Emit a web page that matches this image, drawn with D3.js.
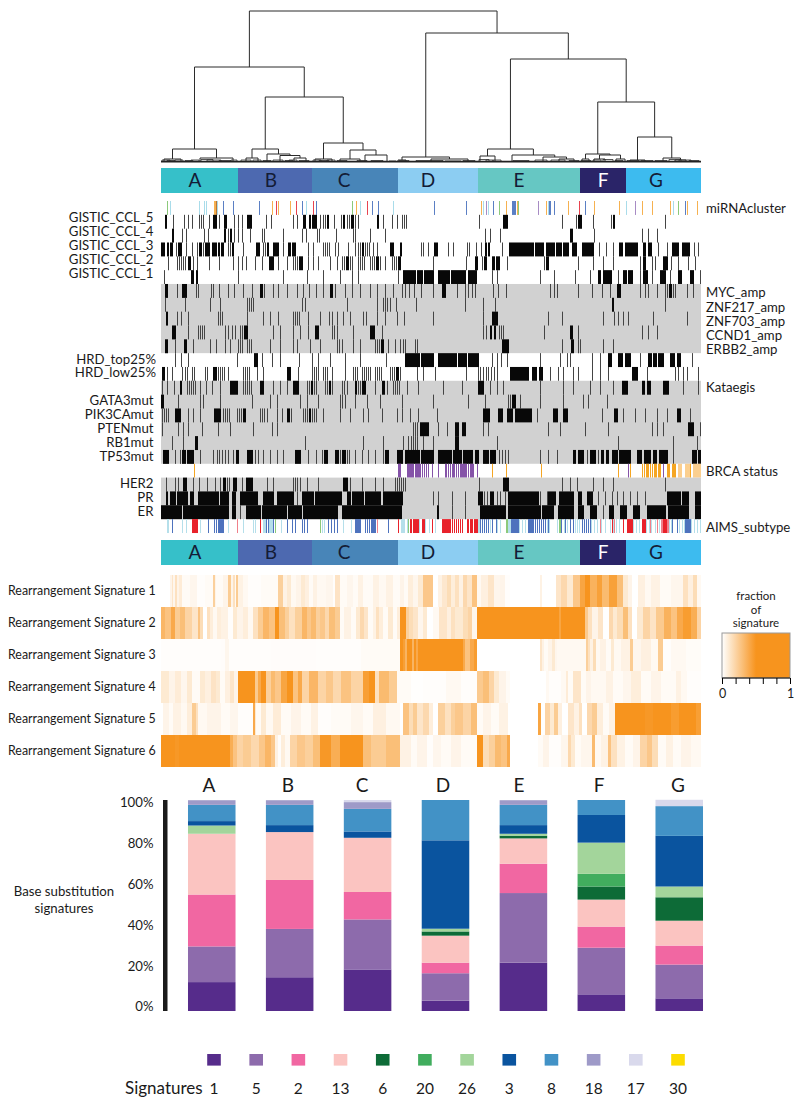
<!DOCTYPE html>
<html><head><meta charset="utf-8">
<script src="https://cdn.jsdelivr.net/npm/d3@7/dist/d3.min.js"></script>
<style>html,body{margin:0;background:#fff}svg{display:block}text{font-family:Lato,"Open Sans",sans-serif;fill:#1a1a1a}</style>
</head><body><svg id="c" width="800" height="1106"></svg>
<script>
const sampleCount = 540;
const clusters = ["A","B","C","D","E","F","G"];
const clusterEnds = [77,151,237,317,419,465,540];
const clusterColors = ["#36c0c9","#4d69b0","#4885b8","#8ccdf2","#66c7c3","#2a2468","#3dbbef"];
const clusterLabelPos = [34,110,183,267,358,442,495];

// dendrogram: [height, left, right]; a leaf is a sample index
const dendroTree = [151,
  [95,
    [13,[3,3,20],[4,39,72]],
    [65,
      [13,[4,85,97],[8,106,[6.5,119,[4,133,145]]]],
      [19,[3,154,171],[12,[3,179,199],[7,204,226]]]]],
  [129,
    [5,[2,237,245],[3,270,307]],
    [103,
      [13,[6,319,334],[7,351,[5,382,[3,398,413]]]],
      [60,
        [8,[3,421,428],[7,[3,433,444],[3,455,464]]],
        [25,[2,469,484],[4,502,[2,514,525]]]]]]];
// small low merges along the base of the dendrogram: [from, to, height]
const dendroTwigs = [[1,9,2],[6,14,1.5],[14,22,2],[24,32,1.5],[30,38,2],[40,52,2.5],[46,60,2],[58,70,1.5],[70,76,2],
 [80,90,2],[92,100,2],[102,110,1.5],[112,122,2],[124,132,1.5],[128,136,2],[138,148,1.5],[152,160,2],[158,168,1.5],[166,174,2],
 [176,186,1.5],[196,206,1.5],[210,222,1.5],[228,235,1],[238,248,1.5],[255,282,1.5],[284,300,1],[302,314,1.5],
 [318,328,2.5],[325,332,2],[332,340,2],[352,368,1.5],[374,386,2],[390,404,2],[408,418,1.5],[420,430,1.5],[432,440,2],[442,452,2.5],[454,462,1.5],
 [466,478,1.5],[480,492,1.5],[494,506,1.5],[508,520,2.5],[518,530,2],[528,538,1.5]];

const rowLabelsLeft = ["GISTIC_CCL_5","GISTIC_CCL_4","GISTIC_CCL_3","GISTIC_CCL_2","GISTIC_CCL_1"];
// entries: single sample, or [first,last] run
const mirnaLightBlue = [9,38,43,45,56,145,199,232,322,327,387,465,512];
const mirnaBlue = [62,72,98,141,155,211,217,273,305,332,[351,354],[388,389],393,424,524];
const mirnaOrange = [[53,54],111,117,129,195,320,345,356,385,407,433,458,481,491,509,526,536];
const mirnaRed = [115,135,152,206,418];
const mirnaGreen = [6,191,338,357,517];
const mirnaPurple = [325,377,474];
const mirnaBrown = [55];

const gistic5 = [[4,5],12,23,27,31,38,40,42,48,[52,55],58,[63,65],73,77,81,[86,90],105,110,132,136,[142,144],[148,149],[151,155],159,162,164,[166,167],173,180,[182,183],186,188,[190,192],194,197,[216,217],222,231,236,241,243,245,318,[342,346],401,415,[417,420],432,450,[452,453],504];
const gistic4 = [[11,12],21,25,43,47,[63,64],67,[69,70],73,77,81,89,101,103,122,141,145,156,158,175,192,194,209,224,324,329,339,[409,411],433,481,487,496];
const gistic3 = [[0,3],[6,7],[9,11],15,[17,20],25,31,36,[38,40],42,[44,48],[51,55],[57,58],[60,62],67,69,[71,72],82,[95,98],102,104,[106,107],[112,117],122,[127,129],[131,134],147,152,162,164,166,168,174,177,187,194,197,199,[201,202],204,206,208,212,216,[229,232],[239,240],260,262,267,[273,276],287,292,306,308,315,320,[324,325],[327,328],341,[348,372],[374,378],[379,382],[385,393],[395,400],[402,407],[411,415],[421,432],438,445,452,[458,461],[464,476],[482,484],[487,490],497,506,[511,517],[521,528],533,537];
const gistic2 = [7,16,18,20,22,24,[27,29],32,36,48,58,72,77,81,85,94,101,[108,112],117,126,132,134,136,[138,141],147,152,157,169,176,181,183,[185,187],189,191,197,199,201,203,209,211,213,[215,217],219,224,231,233,235,[237,239],272,305,[314,316],321,[323,325],[331,333],[335,338],346,383,[385,387],417,432,442,452,479,[482,484],491,494,[502,506],510,517,527,534];
const gistic1 = [3,[30,32],[35,36],77,122,146,162,179,191,197,237,[242,246],[247,254],[256,261],[263,272],[277,288],[290,304],[307,315],331,336,379,393,414,429,[437,439],[442,450],457,[462,465],[467,471],479,[482,486],491,[499,504],509,[517,520],[529,532],539];

const rowLabelsGain = ["MYC_amp","ZNF217_amp","ZNF703_amp","CCND1_amp","ERBB2_amp"];
const mycAmp = [[4,6],16,[21,25],35,37,50,52,58,67,73,82,91,[99,101],103,112,117,126,136,142,148,155,162,[169,171],174,184,191,199,209,216,224,232,241,244,248,253,260,272,[281,284],296,304,307,311,314,332,337,345,389,393,396,417,431,441,449,[456,459],479,484,487,496,504,506,[508,510],512,514,526,532];
const znf217Amp = [4,24,49,59,86,88,90,92,141,144,186,216,222,224,226,229,235,255,304,322,334,[451,452],504];
const znf703Amp = [[5,6],16,20,27,57,59,61,86,102,109,117,132,134,136,138,147,159,168,171,176,182,189,202,205,216,224,236,243,272,322,[331,336],387,401,442,453,457,462,467,492,526];
const ccnd1Amp = [[11,14],27,37,39,41,43,64,67,71,74,79,81,[83,86],112,119,132,139,147,[154,157],171,173,176,192,[209,213],221,322,325,[329,330],[333,334],338,340,342,383,[409,411],417,481,487,496];
const erbb2Amp = [[4,6],14,[23,25],32,49,55,64,69,77,79,81,86,88,90,109,119,132,136,149,159,176,178,181,192,199,214,216,218,[220,222],227,234,239,242,244,254,256,[341,347],401,[410,412],417,419,442,452];

const hrdTop = [14,20,27,76,[93,96],101,111,119,138,151,157,169,184,199,225,[244,258],[260,272],[277,295],[297,305],[307,317],331,336,340,346,379,399,406,409,431,439,[447,450],[457,461],[464,469],479,[487,490],[492,495],[497,502],[509,513],[516,519],531];
const hrdLow = [[1,3],6,11,21,24,26,31,33,44,46,[52,55],57,59,61,63,67,82,84,86,88,96,102,[126,129],137,151,153,155,157,162,164,166,171,184,192,194,196,201,203,205,207,209,214,216,218,220,229,231,233,[235,237],239,256,262,274,305,317,319,322,325,327,330,333,336,[349,355],[356,367],[371,375],[378,381],389,397,402,412,417,431,439,447,[471,476],486,514,517,522,526,537];

const kataegis = [1,6,13,[19,20],26,28,30,32,34,39,45,51,59,[69,76],82,84,86,88,90,[99,102],112,119,126,[132,137],146,148,[150,151],153,155,164,166,[168,169],171,181,183,186,[194,195],197,199,[201,204],214,[221,223],226,232,234,236,238,246,257,282,301,[317,322],329,336,342,379,402,412,429,439,452,[461,466],[481,483],[486,489],[502,507],522,537];
const gata3 = [[0,2],17,39,42,59,91,109,116,139,146,157,179,181,184,194,206,219,241,272,307,324,347,349,[351,354],359,379,402,422,427,446];
const pik3ca = [1,3,5,7,[14,19],27,32,39,[53,59],62,64,66,68,76,78,80,[82,84],99,101,103,106,116,121,[126,128],130,142,144,146,[148,149],151,153,155,162,179,189,202,207,221,236,241,249,257,276,[322,328],[337,341],[346,351],[354,370],376,[392,396],[402,406],441,[453,456],462,474,484,496,506,[516,519],529];
const pten = [1,17,22,27,41,57,69,92,111,116,252,254,256,[259,267],277,286,[294,297],[301,304],322,327,387,399,424,447,491,496,502,[527,532],539];
const rb1 = [11,22,[34,36],144,202,222,242,247,250,252,254,256,262,272,[294,297],336,457,512,536];
const tp53 = [[2,7],14,19,[21,24],[26,32],39,52,56,58,61,64,67,72,[75,77],[86,91],94,97,102,109,116,122,[134,139],147,155,161,[163,166],[174,177],179,[181,184],186,188,194,201,207,214,222,[224,227],[236,241],[244,258],[260,272],[277,290],[292,300],[302,311],[314,317],[322,327],[329,334],338,341,344,347,379,387,396,[412,414],[417,422],426,[429,434],437,[440,442],[445,447],[451,456],[458,469],[476,480],[483,489],[492,495],[498,506],512,[531,535],[537,539]];

const brcaOrange = [33,331,345,380,457,469,481,483,[485,487],489,491,[493,495],[497,499],[506,508],[511,514],529];
const brcaLight = [[517,520],[524,528],[532,539]];
const brcaPurple = [[237,239],[246,252],[254,259],261,263,265,267,271,277,[284,285],287,289,[291,293],295,297,[299,301],[302,305],307,[309,312],316,467,502];

const her2 = [5,14,17,[22,25],32,38,46,54,59,[62,64],66,68,[72,75],81,[85,91],106,112,132,134,136,139,146,157,[182,186],189,201,214,222,234,236,238,240,242,244,318,[342,347],401,409,416,432,442,452,504];
const pr = [[5,6],[9,14],[16,26],[29,32],[37,57],[59,67],[71,74],[79,96],[102,112],[116,132],136,[141,152],[154,180],[186,189],[191,202],[204,219],[222,241],272,277,291,304,[317,321],323,326,[329,332],336,339,344,[347,377],379,386,[387,394],[398,412],[417,420],[426,431],437,444,451,456,462,469,476,484,[506,519],[521,527],[534,539]];
const er = [[0,20],[22,36],[37,67],[71,74],79,[85,99],[101,125],[127,140],[142,176],[181,240],[276,277],291,304,[319,336],[337,344],[347,379],[381,392],[397,412],[417,422],[429,435],442,[448,452],[459,465],[472,478],[486,504],[507,527],[534,539]];

const rowLabelsHrd = ["HRD_top25%","HRD_low25%"];
const rowLabelsMut = ["GATA3mut","PIK3CAmut","PTENmut","RB1mut","TP53mut"];
const rowLabelsReceptor = ["HER2","PR","ER"];

const aimsLumA = [6,7,21,25,39,67,82,92,94,[102,104],[108,111],120,161,163,182,190,[240,243],246,258,264,268,274,[317,318],329,336,339,[346,349],358,361,364,378,380,386,388,396,398,403,406,414,416,418,430,433,436,440,444,449,452,455,458,472,475,478,485,488,490,494,498,500,508,510,518,521,523,530,533,536,539];
const aimsLumB = [11,47,53,55,[57,62],105,107,112,126,131,134,141,143,146,167,170,173,176,[194,199],204,206,208,[210,214],227,319,321,323,325,327,331,335,[350,357],[367,372],374,376,378,380,382,384,387,398,400,404,409,412,421,423,425,427,429,511,516,[524,529]];
const aimsBasal = [[31,36],99,237,247,[249,250],[252,254],[255,257],[261,263],271,[281,289],291,293,295,297,299,301,[306,307],[309,311],[313,316],451,462,[466,471],[481,484],[502,505]];
const aimsHer2 = [76,216,439,453,489,496,[500,501],[506,507]];
const aimsNormal = [114,159,247,[345,346],[398,399]];

const heatLabels = ["Rearrangement Signature 1","Rearrangement Signature 2","Rearrangement Signature 3","Rearrangement Signature 4","Rearrangement Signature 5","Rearrangement Signature 6"];
// [last sample of run, fraction]
const rearr1 = [[9,0],[11,.05],[12,.12],[14,.04],[16,.14],[18,.05],[21,.09],[29,.02],[36,.04],[44,.01],[52,.02],[54,.22],[55,.05],[62,.02],[67,.05],[70,.24],[72,.05],[74,.14],[75,.03],[77,.24],[82,.06],[87,.03],[100,.01],[117,.02],[122,.22],[126,.06],[130,.1],[135,.03],[140,.05],[144,.1],[148,.07],[152,.02],[156,.06],[165,.03],[172,.04],[174,.01],[179,.13],[186,.02],[192,.04],[197,.02],[202,.06],[212,.02],[218,.06],[225,.03],[232,.06],[239,.02],[243,.05],[247,.02],[252,.08],[257,.04],[262,.1],[272,.26],[277,0],[281,.06],[286,.11],[290,.16],[294,.08],[298,.14],[302,.06],[306,.18],[311,.12],[316,.28],[320,.03],[327,.07],[333,.12],[339,.04],[344,.05],[349,.01],[379,0],[381,.06],[395,0],[400,.12],[406,.18],[412,.1],[419,.26],[424,.42],[429,.5],[436,.36],[441,.44],[448,.32],[456,.44],[462,.3],[467,.1],[471,.05],[477,0],[484,.07],[490,.03],[499,.06],[510,.02],[522,.04],[527,.14],[532,.07],[536,.16],[540,.03]];
const rearr2 = [[4,.34],[10,.28],[14,.4],[19,.24],[24,.3],[31,.2],[37,.12],[39,.28],[42,.16],[46,0],[49,.14],[52,.08],[56,.03],[60,.08],[67,.06],[72,.01],[76,.1],[82,.05],[87,.08],[92,.03],[97,.14],[102,.24],[108,.34],[114,.28],[118,.5],[124,.3],[128,.22],[134,.14],[141,.22],[146,.34],[150,.26],[155,.32],[159,.22],[164,.26],[168,.18],[174,.3],[179,.24],[183,.02],[190,.06],[195,.02],[199,.1],[203,.18],[207,.12],[212,.02],[215,.06],[218,.14],[222,.08],[227,.02],[232,.1],[236,.02],[239,.08],[245,.55],[248,.22],[252,.16],[257,.12],[262,.04],[266,.1],[272,0],[278,.03],[286,.12],[290,.07],[294,.14],[302,.1],[307,.16],[311,.2],[316,.04],[324,.6],[331,.5],[398,.6],[400,.42],[424,.6],[427,.25],[431,.14],[437,.05],[442,.12],[448,0],[452,.18],[456,.1],[462,.16],[467,.3],[471,.14],[476,0],[482,.1],[489,.2],[495,.13],[503,.25],[510,.36],[516,.28],[522,.4],[530,.46],[536,.38],[540,.2]];
const rearr3 = [[60,.008],[64,.012],[68,.04],[110,.008],[155,.012],[200,.008],[239,.02],[242,.6],[244,.45],[246,.35],[251,.55],[253,.35],[255,.6],[257,.4],[261,.55],[302,.62],[304,.4],[309,.28],[313,.4],[316,.46],[379,0],[381,.12],[383,.06],[387,.02],[391,.05],[394,.1],[396,.04],[425,.03],[427,.22],[429,.14],[432,.06],[435,.16],[439,.03],[445,.06],[450,.02],[453,.1],[460,.03],[469,.06],[472,.24],[480,.04],[490,.07],[497,.03],[502,.24],[510,.01],[525,.03],[540,.015]];
const rearr4 = [[8,.1],[14,.05],[20,.09],[26,.04],[31,.1],[39,.02],[44,.1],[50,.07],[55,.13],[59,.1],[64,.02],[69,.07],[73,.12],[77,.05],[94,.55],[97,.25],[100,.4],[105,.55],[110,.22],[114,.32],[120,.26],[126,.42],[132,.5],[137,.28],[141,.4],[148,.2],[157,.34],[165,.2],[172,.26],[180,.18],[190,.28],[202,.2],[208,.45],[214,.5],[218,.14],[228,.32],[236,.24],[239,.02],[250,.02],[262,.005],[285,.01],[300,.03],[316,.01],[322,.25],[328,.3],[333,.2],[338,.1],[345,.05],[349,.02],[385,0],[388,.03],[400,.01],[405,.03],[407,.09],[412,.02],[420,.12],[425,.02],[430,.05],[445,.03],[452,.06],[462,.02],[470,.04],[480,.08],[490,.02],[500,.05],[515,.02],[520,.06],[526,.03],[540,.01]];
const rearr5 = [[2,0],[8,.05],[12,.02],[20,.06],[26,.03],[31,.08],[35,.24],[37,.14],[46,.03],[60,.05],[69,.02],[77,.04],[92,.01],[94,.4],[95,.1],[100,.02],[105,.1],[112,.03],[120,.09],[130,.02],[140,.05],[150,.02],[157,.06],[170,.01],[190,.02],[202,.04],[212,.02],[225,.07],[239,.03],[242,0],[248,.28],[252,.16],[256,.24],[262,.12],[268,.18],[272,.08],[277,0],[284,.22],[290,.14],[294,.22],[302,.26],[310,.2],[316,.3],[322,.02],[330,.05],[338,.02],[347,.06],[377,0],[380,.42],[384,0],[389,.2],[393,.1],[397,.24],[401,.07],[407,0],[413,.12],[418,.06],[421,.14],[426,0],[431,.18],[436,.24],[442,.08],[448,.02],[454,.06],[458,.52],[468,.6],[476,.5],[484,.62],[492,.48],[500,.56],[510,.6],[518,.46],[526,.58],[535,.62],[540,.45]];
const rearr6 = [[6,.5],[14,.62],[18,.48],[24,.6],[30,.52],[69,.62],[72,.38],[76,.28],[82,.2],[90,.24],[98,.18],[104,.26],[110,.34],[114,.26],[117,.06],[120,.01],[124,.08],[129,.03],[136,.2],[144,.26],[152,.22],[159,.3],[170,.48],[179,.38],[202,.58],[210,.3],[225,.24],[239,.3],[250,.06],[256,.02],[266,.05],[272,.01],[280,.04],[290,.02],[300,.05],[316,.02],[322,.5],[328,.16],[334,.22],[340,.32],[346,.28],[349,.4],[377,0],[382,.02],[388,.05],[400,.01],[407,.04],[410,.18],[414,.1],[420,.02],[431,.04],[434,.32],[440,.03],[447,.06],[450,.28],[456,.14],[464,.06],[472,.02],[479,.05],[486,.2],[491,.26],[497,.16],[505,.02],[512,.06],[520,.02],[530,.05],[540,.03]];

const sigNames = ["1","5","2","13","6","20","26","3","8","18","17","30"];
const sigColors = ["#562c8b","#8d6bac","#f167a2","#fbc4c1","#0d6b37","#41ad5e","#a3d59b","#0a549f","#4292c6","#9e9ac8","#d9d9ec","#fcdc00"];
const sigA = [13.7,16.9,24.6,28.8,0,0,3.9,2.1,7.7,2.2,0,0];
const sigB = [16,22.9,23.2,22.7,0,0,0,3.3,9.6,2.2,0,0];
const sigC = [19.7,23.7,13,25.7,0,0,0,3,10.7,3.2,1,0];
const sigD = [4.9,13,5,12.8,2,0,1.3,41.9,19.1,0,0,0];
const sigE = [22.9,33,13.9,12,1.3,0,.9,4.1,9.6,2.2,0,0];
const sigF = [7.9,22.1,10,12.8,6.2,6,14.8,13.1,7.1,0,0,0];
const sigG = [6,16,9,11.8,11.1,0,5.1,24,14.1,0,3,0];
const yTicks = [0,20,40,60,80,100];

const svg = d3.select("#c");
const x = d3.scaleLinear().domain([0,sampleCount]).range([161,701]);
const rowStep = 13.83, rowsTop = 201;
const rowY = i => rowsTop + i*rowStep;

/* ---------- dendrogram ---------- */
const dy = d3.scaleLinear().domain([0,151]).range([162,11]);
const dg = svg.append("g").attr("fill","none").attr("stroke","#2b2b2b").attr("stroke-width",1);
function drawTree(n){
  if(typeof n === "number") return {p:n,h:0};
  const a = drawTree(n[1]), b = drawTree(n[2]);
  const path = d3.path();
  path.moveTo(x(a.p),dy(a.h)); path.lineTo(x(a.p),dy(n[0])); path.lineTo(x(b.p),dy(n[0])); path.lineTo(x(b.p),dy(b.h));
  dg.append("path").attr("d",path.toString());
  return {p:(a.p+b.p)/2,h:n[0]};
}
drawTree(dendroTree);
dg.selectAll("path.twig").data(dendroTwigs).join("path").attr("class","twig").attr("stroke-width",.8)
  .attr("d",d=>`M${x(d[0])},${dy(0)}V${dy(d[2])}H${x(d[1])}V${dy(0)}`);
svg.append("line").attr("x1",x(0)).attr("x2",x(sampleCount)).attr("y1",161.6).attr("y2",161.6).attr("stroke","#222").attr("stroke-width",1.8);

/* ---------- cluster bands ---------- */
function band(top,h){
  const g = svg.append("g");
  const starts = [0].concat(clusterEnds.slice(0,-1));
  g.selectAll("rect").data(clusters).join("rect")
    .attr("x",(d,i)=>x(starts[i])).attr("width",(d,i)=>x(clusterEnds[i])-x(starts[i]))
    .attr("y",top).attr("height",h).attr("fill",(d,i)=>clusterColors[i]);
  g.selectAll("text").data(clusters).join("text")
    .attr("x",(d,i)=>x(clusterLabelPos[i])).attr("y",top+h/2+6.5).attr("text-anchor","middle")
    .attr("font-size",19).style("fill",d=>d==="F"?"#fff":"#141c36").text(d=>d);
}
band(168,25); band(540,25);

/* ---------- tick tracks ---------- */
const runs = a => a.map(d=>Array.isArray(d)?d:[d,d]);
function track(i,arr,color){
  const g = svg.append("g");
  g.selectAll("rect").data(runs(arr)).join("rect")
    .attr("x",d=>x(d[0])).attr("width",d=>x(d[1]+1)-x(d[0]))
    .attr("y",rowY(i)).attr("height",rowStep+.1)
    .attr("fill",d=>color?color:(d[1]>d[0]?"#080808":"#444"));
}
function greyBg(i0,i1){ svg.append("rect").attr("x",x(0)).attr("width",x(sampleCount)-x(0)).attr("y",rowY(i0)).attr("height",rowY(i1)-rowY(i0)).attr("fill","#d1d1d1"); }
track(0,mirnaLightBlue,"#a9dcea");track(0,mirnaBlue,"#5b7fc4");track(0,mirnaOrange,"#f6b150");track(0,mirnaRed,"#e8434f");track(0,mirnaGreen,"#8cc97a");track(0,mirnaPurple,"#a78bc4");track(0,mirnaBrown,"#b9743a");
[gistic5,gistic4,gistic3,gistic2,gistic1].forEach((a,i)=>track(1+i,a));
greyBg(6,11);
[mycAmp,znf217Amp,znf703Amp,ccnd1Amp,erbb2Amp].forEach((a,i)=>track(6+i,a));
[hrdTop,hrdLow].forEach((a,i)=>track(11+i,a));
greyBg(13,19);
[kataegis,gata3,pik3ca,pten,rb1,tp53].forEach((a,i)=>track(13+i,a));
track(19,brcaLight,"#fbcf8f");track(19,brcaOrange,"#f5a623");track(19,brcaPurple,"#8553a8");
greyBg(20,23);
[her2,pr,er].forEach((a,i)=>track(20+i,a));
track(23,aimsLumA,"#b5dfea");track(23,aimsLumB,"#4e72bd");track(23,aimsHer2,"#f0808a");track(23,aimsBasal,"#e8222b");track(23,aimsNormal,"#8cc97a");

/* ---------- row labels ---------- */
const leftLabel = (t,i,right,dyy) => svg.append("text").attr("x",right).attr("y",rowY(i)+rowStep/2+4.6+dyy).attr("text-anchor","end").attr("font-size",13.2).text(t);
rowLabelsLeft.forEach((t,i)=>leftLabel(t,1+i,153.5,-4));
rowLabelsHrd.forEach((t,i)=>leftLabel(t,11+i,156,-1));
rowLabelsMut.forEach((t,i)=>leftLabel(t,14+i,153.5,-.8));
rowLabelsReceptor.forEach((t,i)=>leftLabel(t,20+i,153.5,-1));
const rightLabel = (t,i,dyy) => svg.append("text").attr("x",706).attr("y",rowY(i)+rowStep/2+4.6+dyy).attr("font-size",13.2).text(t);
rightLabel("miRNAcluster",0,0);
rowLabelsGain.forEach((t,i)=>rightLabel(t,6+i,2+i*.4));
rightLabel("Kataegis",13,0);rightLabel("BRCA status",19,1);rightLabel("AIMS_subtype",23,1.5);

/* ---------- rearrangement heat map ---------- */
const heatColor = d3.scaleLinear().domain([0,.5]).range(["#ffffff","#f7941e"]).clamp(true);
const heatY = d3.scaleBand().domain(heatLabels).range([575,767]);
[rearr1,rearr2,rearr3,rearr4,rearr5,rearr6].forEach((row,i)=>{
  let prev = 0;
  const cells = row.map(d=>{const c={a:prev,b:d[0],v:d[1]};prev=d[0];return c;});
  svg.append("g").selectAll("rect").data(cells).join("rect")
    .attr("x",d=>x(d.a)).attr("width",d=>x(d.b)-x(d.a))
    .attr("y",heatY(heatLabels[i])).attr("height",heatY.bandwidth()).attr("fill",d=>heatColor(d.v));
  svg.append("text").attr("x",8).attr("y",heatY(heatLabels[i])+heatY.bandwidth()/2+3.5).attr("font-size",12.4).text(heatLabels[i]);
});
/* legend */
const defs = svg.append("defs");
const grad = defs.append("linearGradient").attr("id","g1");
d3.range(0,1.01,.1).forEach(t=>grad.append("stop").attr("offset",t).attr("stop-color",heatColor(t)));
const lx = d3.scaleLinear().domain([0,1]).range([722,790]);
svg.append("rect").attr("x",722).attr("y",633).attr("width",68).attr("height",45).attr("fill","url(#g1)").attr("stroke","#999").attr("stroke-width",1);
const ax = svg.append("g").attr("transform","translate(0,678)").call(d3.axisBottom(lx).ticks(5).tickSize(6).tickFormat(d=>(d===0||d===1)?d:""));
ax.select(".domain").attr("stroke","#111").attr("d","M722,0H790");
ax.selectAll("text").attr("font-size",12.5).attr("font-family",null).attr("dy","0.9em");
["fraction","of","signature"].forEach((t,i)=>svg.append("text").attr("x",756).attr("y",600+i*13.6).attr("text-anchor","middle").attr("font-size",11.5).text(t));

/* ---------- stacked bars ---------- */
const barX = d3.scaleBand().domain(clusters).range([188-15.2,703+15.2]).paddingInner(.39).paddingOuter(.195);
const barsY = d3.scaleLinear().domain([0,100]).range([1011,800]);
const tickY = d3.scaleLinear().domain([0,100]).range([1007,803]);
const sigTable = clusters.map((c,i)=>{
  const row = {cluster:c}; [sigA,sigB,sigC,sigD,sigE,sigF,sigG][i].forEach((v,j)=>row[sigNames[j]]=v); return row;
});
const stacked = d3.stack().keys(sigNames)(sigTable);
svg.append("g").selectAll("g").data(stacked).join("g").attr("fill",(d,i)=>sigColors[i])
  .selectAll("rect").data(d=>d).join("rect")
  .attr("x",d=>barX(d.data.cluster)).attr("width",barX.bandwidth())
  .attr("y",d=>barsY(d[1])).attr("height",d=>barsY(d[0])-barsY(d[1]));
svg.append("rect").attr("x",163).attr("y",barsY(100)).attr("width",4.5).attr("height",barsY(0)-barsY(100)).attr("fill","#1a1a1a");
svg.append("g").selectAll("text").data(yTicks).join("text").attr("x",153.5).attr("y",d=>tickY(d)+4.4).attr("text-anchor","end").attr("font-size",13.2).text(d=>d+"%");
const headerPos = [209,288,362,443,519,599,678];
svg.append("g").selectAll("text").data(clusters).join("text").attr("x",(d,i)=>headerPos[i]).attr("y",792).attr("text-anchor","middle").attr("font-size",19).text(d=>d);
["Base substitution","signatures"].forEach((t,i)=>svg.append("text").attr("x",64).attr("y",896+i*17).attr("text-anchor","middle").attr("font-size",13.2).text(t));

/* ---------- signature legend ---------- */
const legX = d3.scalePoint().domain(sigNames).range([214,678]);
svg.append("g").selectAll("rect").data(sigNames).join("rect").attr("x",d=>legX(d)-6.8).attr("y",1054).attr("width",13.6).attr("height",11.6).attr("fill",(d,i)=>sigColors[i]);
svg.append("g").selectAll("text").data(sigNames).join("text").attr("x",d=>legX(d)).attr("y",1094).attr("text-anchor","middle").attr("font-size",15.5).text(d=>d);
svg.append("text").attr("x",125).attr("y",1094).attr("font-size",17).text("Signatures");
</script></body></html>
